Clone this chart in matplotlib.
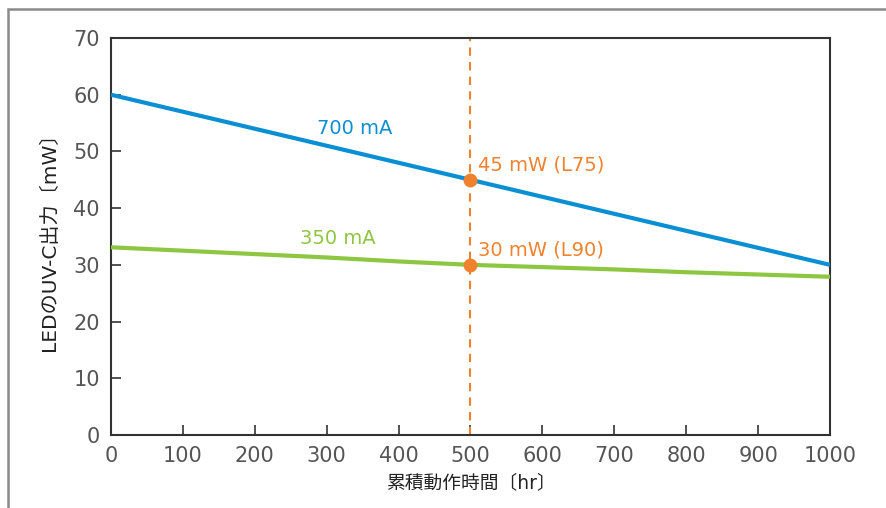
import matplotlib.pyplot as plt
from matplotlib.patches import Rectangle

plt.rcParams['font.family'] = ['DejaVu Sans', 'Noto Sans CJK JP']

hours = [0, 100, 200, 300, 400, 500, 600, 700, 800, 900, 1000]
out_700 = [60, 57, 54, 51, 48, 45, 42, 39, 36, 33, 30]
out_350 = [33.1, 32.5, 31.9, 31.3, 30.6, 30.0, 29.6, 29.2, 28.7, 28.3, 27.9]
mark_x = 500
mark_y = [45, 30]
mark_labels = ['45 mW (L75)', '30 mW (L90)']
xticks = [0, 100, 200, 300, 400, 500, 600, 700, 800, 900, 1000]
yticks = [0, 10, 20, 30, 40, 50, 60, 70]

blue = '#0B8FD3'
green = '#8DC641'
orange = '#F0822E'

fig = plt.figure(figsize=(8.87, 5.08), dpi=100)
W, H = 887, 508
ax = fig.add_axes([111 / W, 1 - 435 / H, (830 - 111) / W, (435 - 38) / H])

# outer frame, cut off at right and bottom
fig.patches.append(Rectangle((8 / W, -0.1), 1.2, 1 - 9 / H + 0.1, transform=fig.transFigure,
                             fill=False, edgecolor='#8a8a8a', linewidth=1.8))

ax.axvline(mark_x, color=orange, linewidth=1.5, linestyle=(0, (4, 3)), zorder=2)
ax.plot(hours, out_700, color=blue, linewidth=3, zorder=3, solid_capstyle='butt')
ax.plot(hours, out_350, color=green, linewidth=3, zorder=3, solid_capstyle='butt')
ax.plot([mark_x] * 2, mark_y, 'o', color=orange, markersize=9, zorder=4)

for y, lab in zip(mark_y, mark_labels):
    ax.text(mark_x + 11, y + 2.6, lab, color=orange, fontsize=14, va='center', ha='left')
ax.text(339, 54.0, '700 mA', color=blue, fontsize=14, va='center', ha='center')
ax.text(316, 34.7, '350 mA', color=green, fontsize=14, va='center', ha='center')

ax.set_xlim(0, 1000)
ax.set_ylim(0, 70)
ax.set_xticks(xticks)
ax.set_yticks(yticks)
ax.tick_params(direction='in', length=7, width=1.2, colors='#333333', labelcolor='#555555',
               labelsize=15, pad=8)
ax.tick_params(axis='x', pad=8)
for s in ax.spines.values():
    s.set_color('#333333')
    s.set_linewidth(1.5)

ax.set_xlabel('累積動作時間〔hr〕', fontsize=13.5, color='#222222', labelpad=5)
ax.set_ylabel('LEDのUV-C出力〔mW〕', fontsize=14.5, color='#222222', labelpad=10)

fig.savefig('out.png', dpi=100)
